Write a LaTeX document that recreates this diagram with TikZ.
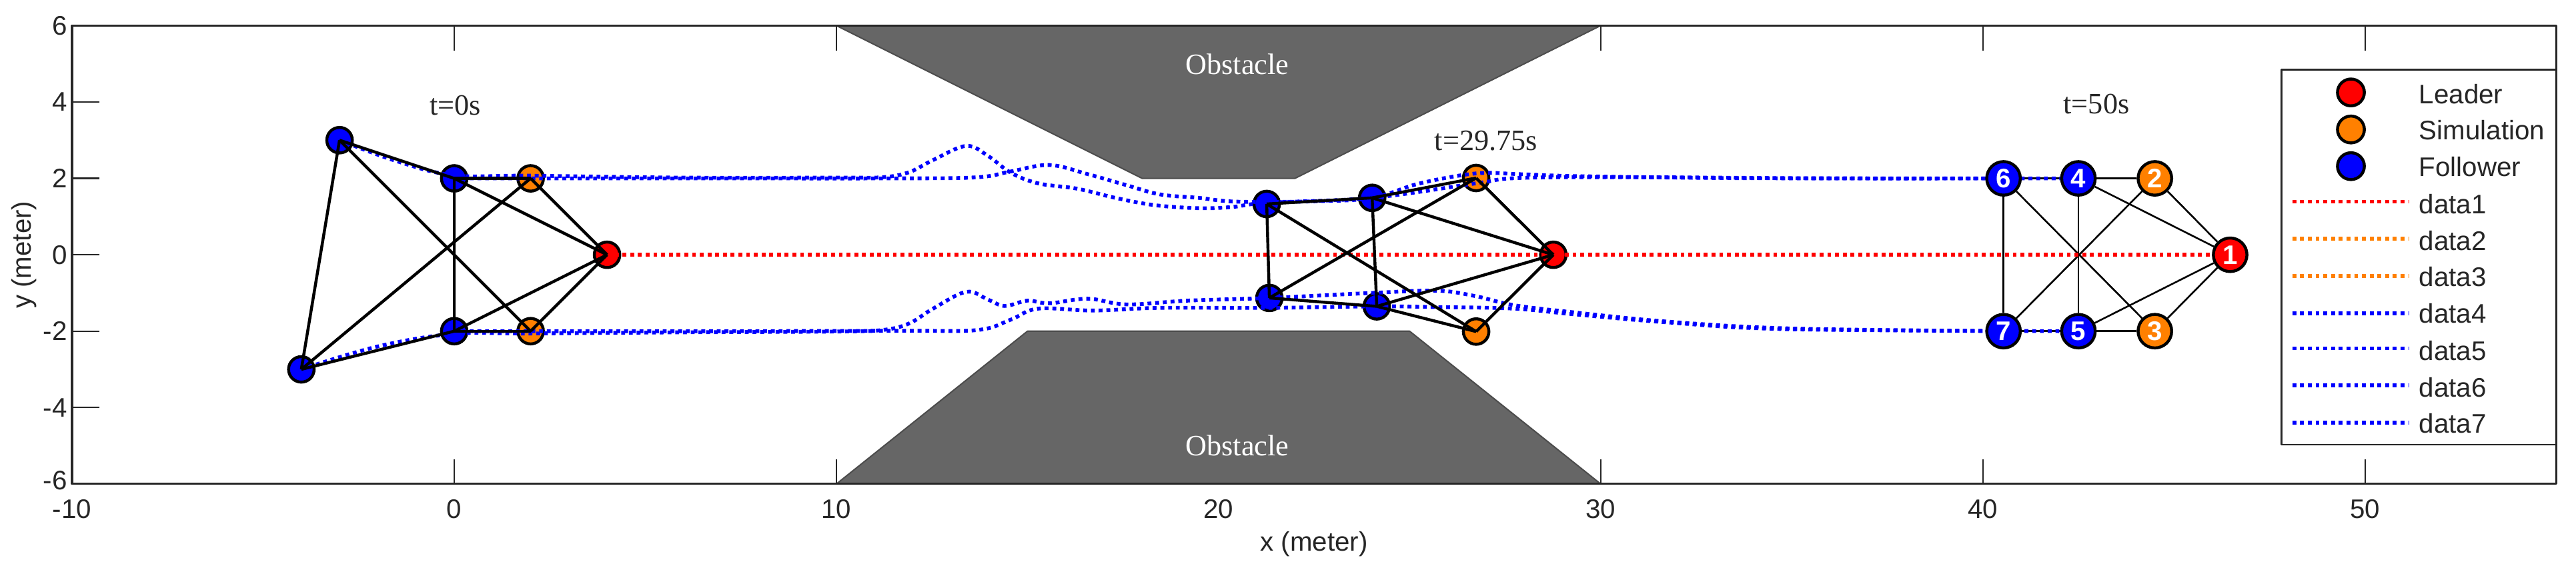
\documentclass[tikz,border=0pt]{standalone}
\usepackage{fontspec}
\setmainfont{Liberation Sans}
\newfontfamily\myserif{Liberation Serif}
\usetikzlibrary{positioning}
\definecolor{myorange}{RGB}{255,128,0}
\definecolor{mygray}{RGB}{102,102,102}
\definecolor{myink}{RGB}{38,38,38}
\pgfdeclarelayer{front}
\pgfsetlayers{main,front}

\begin{document}
\begin{tikzpicture}[line join=round]
	\tikzset{
		myagent/.style={circle,draw=black,line width=2.2pt,inner sep=0pt,minimum size=19pt},
		myend/.style={myagent,minimum size=25pt,text=white,font=\fontsize{20}{24}\selectfont\bfseries},
		mykey/.style={myagent,minimum size=20pt},
		myedge/.style={black,line width=2.2pt},
		myedge1/.style={black,line width=1.3pt},
		mytraj/.style={line width=2.8pt,dash pattern=on 2.9pt off 2.85pt},
		mytick/.style={myink,line width=1.1pt},
		myframe/.style={myink,line width=1.5pt},
		myobstacle/.style={fill=mygray,draw=black!70,line width=1pt},
		mynum/.style={myink,inner sep=0pt,font=\fontsize{20}{24}\selectfont},
		mytime/.style={myink,inner sep=0pt,font=\myserif\fontsize{22}{26}\selectfont},
		mylabel/.style={mynum,anchor=west}
	}
	\useasboundingbox (-11.885,-8.25) rectangle (55.52,6.67);

	\begin{pgfonlayer}{front}
		\node[myend,fill=red] (e1) at (46.47,0) {1};
		\node[myend,fill=myorange] (e2) at (44.5,2) {2};
		\node[myend,fill=myorange] (e3) at (44.5,-2) {3};
		\node[myend,fill=blue] (e4) at (42.5,2) {4};
		\node[myend,fill=blue] (e5) at (42.5,-2) {5};
		\node[myend,fill=blue] (e6) at (40.54,2) {6};
		\node[myend,fill=blue] (e7) at (40.54,-2) {7};
	\end{pgfonlayer}

	% ticks
	\draw[mytick] (0,6) -- (0,5.35);
	\draw[mytick] (0,-6) -- (0,-5.35);
	\draw[mytick] (10,6) -- (10,5.35);
	\draw[mytick] (10,-6) -- (10,-5.35);
	\draw[mytick] (30,6) -- (30,5.35);
	\draw[mytick] (30,-6) -- (30,-5.35);
	\draw[mytick] (40,6) -- (40,5.35);
	\draw[mytick] (40,-6) -- (40,-5.35);
	\draw[mytick] (50,6) -- (50,5.35);
	\draw[mytick] (50,-6) -- (50,-5.35);
	\draw[mytick] (-10,4) -- (-9.29,4);
	\draw[mytick] (-10,2) -- (-9.29,2);
	\draw[mytick] (-10,0) -- (-9.29,0);
	\draw[mytick] (-10,-2) -- (-9.29,-2);
	\draw[mytick] (-10,-4) -- (-9.29,-4);

	% obstacles
	\draw[myobstacle] (10,6) -- (18,2) -- (22,2) -- (30,6) -- cycle;
	\draw[myobstacle] (10,-6) -- (15,-2) -- (25,-2) -- (30,-6) -- cycle;
	\node[mytime,text=white] (obsTop) at (20.49,4.98) {Obstacle};
	\node[mytime,text=white] (obsBottom) at (20.49,-5) {Obstacle};
	\draw[myframe] (-10,-6) rectangle (55,6);

	% formation at t=0s
	\node[myagent,fill=red] (a1) at (4,0) {};
	\node[myagent,fill=myorange] (a2) at (2,2) {};
	\node[myagent,fill=myorange] (a3) at (2,-2) {};
	\node[myagent,fill=blue] (a4) at (0,2) {};
	\node[myagent,fill=blue] (a5) at (0,-2) {};
	\node[myagent,fill=blue] (a6) at (-3,3) {};
	\node[myagent,fill=blue] (a7) at (-4,-3) {};

	% formation at t=29.75s
	\node[myagent,fill=red] (m1) at (28.76,0) {};
	\node[myagent,fill=myorange] (m2) at (26.74,2.01) {};
	\node[myagent,fill=myorange] (m3) at (26.74,-2.01) {};
	\node[myagent,fill=blue] (m4) at (24.02,1.49) {};
	\node[myagent,fill=blue] (m5) at (24.14,-1.35) {};
	\node[myagent,fill=blue] (m6) at (21.26,1.33) {};
	\node[myagent,fill=blue] (m7) at (21.33,-1.13) {};

	% edges at t=50s
	\draw[myedge1] (e1) -- (e2);
	\draw[myedge1] (e1) -- (e3);
	\draw[myedge1] (e1) -- (e4);
	\draw[myedge1] (e1) -- (e5);
	\draw[myedge1] (e2) -- (e4);
	\draw[myedge1] (e2) -- (e7);
	\draw[myedge1] (e3) -- (e5);
	\draw[myedge1] (e3) -- (e6);
	\draw[myedge1] (e4) -- (e5);
	\draw[myedge1] (e4) -- (e6);
	\draw[myedge1] (e5) -- (e7);
	\draw[myedge1] (e6) -- (e7);

	% trajectories
	\draw[mytraj,blue] plot[smooth,tension=.6] coordinates {(-3,3) (-1.5,2.45) (0,2.08) (2,2.07) (6,2.02) (10,2.02) (11.2,2.03) (11.9,2.16) (12.53,2.48) (13.4,2.85) (13.98,2.58) (14.56,2.15) (15.28,1.87) (16.3,1.73) (17.3,1.49) (18.32,1.3) (19.48,1.22) (20.35,1.25) (21.26,1.36) (24,1.49) (26.74,1.87) (27.87,2.01) (31,2.03) (36,2) (40.54,2)};
	\draw[mytraj,blue] plot[smooth,tension=.6] coordinates {(0,2) (2,2) (6,2) (11.66,2) (13.69,2.03) (14.56,2.18) (15.57,2.35) (16.58,2.11) (17.6,1.82) (18.47,1.58) (19.48,1.49) (20.49,1.39) (22.5,1.4) (24.02,1.49) (25.27,1.87) (26.74,2.13) (27.87,2.11) (29.32,2.06) (33,2.01) (37,2) (42.5,2)};
	\draw[mytraj,blue] plot[smooth,tension=.6] coordinates {(-4,-3) (-2,-2.4) (0,-2.07) (2,-2.06) (6,-2.03) (10,-2.01) (11.2,-1.97) (11.9,-1.8) (12.53,-1.41) (13.4,-.97) (13.98,-1.18) (14.41,-1.34) (15,-1.2) (15.57,-1.27) (16.58,-1.15) (17.6,-1.3) (19.2,-1.2) (21.33,-1.13) (24,-1) (25.7,-.94) (26.71,-1.08) (27.73,-1.32) (29.32,-1.51) (31.75,-1.75) (35,-1.93) (40.54,-2)};
	\draw[mytraj,blue] plot[smooth,tension=.6] coordinates {(0,-2) (2,-2) (6,-2) (11.66,-1.99) (13.69,-1.97) (14.56,-1.7) (15.28,-1.41) (16.73,-1.46) (18.47,-1.39) (21.33,-1.39) (24.14,-1.35) (25.7,-1.37) (27.73,-1.41) (29.32,-1.56) (31.75,-1.77) (35,-1.95) (42.5,-2)};
	\draw[mytraj,red] (a1.center) -- (e1.center);

	% edges at t=0s
	\draw[myedge] (a1.center) -- (a2.center);
	\draw[myedge] (a1.center) -- (a3.center);
	\draw[myedge] (a1.center) -- (a4.center);
	\draw[myedge] (a1.center) -- (a5.center);
	\draw[myedge] (a2.center) -- (a4.center);
	\draw[myedge] (a2.center) -- (a7.center);
	\draw[myedge] (a3.center) -- (a5.center);
	\draw[myedge] (a3.center) -- (a6.center);
	\draw[myedge] (a4.center) -- (a5.center);
	\draw[myedge] (a4.center) -- (a6.center);
	\draw[myedge] (a5.center) -- (a7.center);
	\draw[myedge] (a6.center) -- (a7.center);

	% edges at t=29.75s
	\draw[myedge] (m1.center) -- (m2.center);
	\draw[myedge] (m1.center) -- (m3.center);
	\draw[myedge] (m1.center) -- (m4.center);
	\draw[myedge] (m1.center) -- (m5.center);
	\draw[myedge] (m2.center) -- (m4.center);
	\draw[myedge] (m2.center) -- (m7.center);
	\draw[myedge] (m3.center) -- (m5.center);
	\draw[myedge] (m3.center) -- (m6.center);
	\draw[myedge] (m4.center) -- (m5.center);
	\draw[myedge] (m4.center) -- (m6.center);
	\draw[myedge] (m5.center) -- (m7.center);
	\draw[myedge] (m6.center) -- (m7.center);

	% texts
	\node[mytime] (t0) at (.03,3.92) {t=0s};
	\node[mytime] (t1) at (27,2.98) {t=29.75s};
	\node[mytime] (t2) at (42.97,3.94) {t=50s};
	\node[mynum] (xm10) at (-10,-6.65) {-10};
	\node[mynum] (x0) at (0,-6.65) {0};
	\node[mynum] (x10) at (10,-6.65) {10};
	\node[mynum] (x20) at (20,-6.65) {20};
	\node[mynum] (x30) at (30,-6.65) {30};
	\node[mynum] (x40) at (40,-6.65) {40};
	\node[mynum] (x50) at (50,-6.65) {50};
	\node[mynum,anchor=east] (y6) at (-10.12,6) {6};
	\node[mynum,anchor=east] (y4) at (-10.12,4) {4};
	\node[mynum,anchor=east] (y2) at (-10.12,2) {2};
	\node[mynum,anchor=east] (y0) at (-10.12,0) {0};
	\node[mynum,anchor=east] (ym2) at (-10.12,-2) {-2};
	\node[mynum,anchor=east] (ym4) at (-10.12,-4) {-4};
	\node[mynum,anchor=east] (ym6) at (-10.12,-5.9) {-6};
	\node[mynum] (xlabel) at (22.5,-7.58) {x (meter)};
	\node[mynum,rotate=90] (ylabel) at (-11.26,0) {y (meter)};

	% legend
	\draw[myink,fill=white,line width=1.3pt] (47.81,-4.97) rectangle (55,4.85);
	\node[mykey,fill=red] (keyLeader) at (49.63,4.25) {};
	\node[mykey,fill=myorange] (keySim) at (49.63,3.28) {};
	\node[mykey,fill=blue] (keyFollower) at (49.63,2.32) {};
	\draw[mytraj,red] (48.1,1.39) -- (51.14,1.39);
	\draw[mytraj,myorange] (48.1,.42) -- (51.14,.42);
	\draw[mytraj,myorange] (48.1,-.56) -- (51.14,-.56);
	\draw[mytraj,blue] (48.1,-1.53) -- (51.14,-1.53);
	\draw[mytraj,blue] (48.1,-2.45) -- (51.14,-2.45);
	\draw[mytraj,blue] (48.1,-3.42) -- (51.14,-3.42);
	\draw[mytraj,blue] (48.1,-4.39) -- (51.14,-4.39);
	\node[mylabel] (lab1) at (51.41,4.2) {Leader};
	\node[mylabel] (lab2) at (51.41,3.27) {Simulation};
	\node[mylabel] (lab3) at (51.41,2.3) {Follower};
	\node[mylabel] (lab4) at (51.41,1.33) {data1};
	\node[mylabel] (lab5) at (51.41,.37) {data2};
	\node[mylabel] (lab6) at (51.41,-.57) {data3};
	\node[mylabel] (lab7) at (51.41,-1.54) {data4};
	\node[mylabel] (lab8) at (51.41,-2.51) {data5};
	\node[mylabel] (lab9) at (51.41,-3.48) {data6};
	\node[mylabel] (lab10) at (51.41,-4.41) {data7};
\end{tikzpicture}
\end{document}
